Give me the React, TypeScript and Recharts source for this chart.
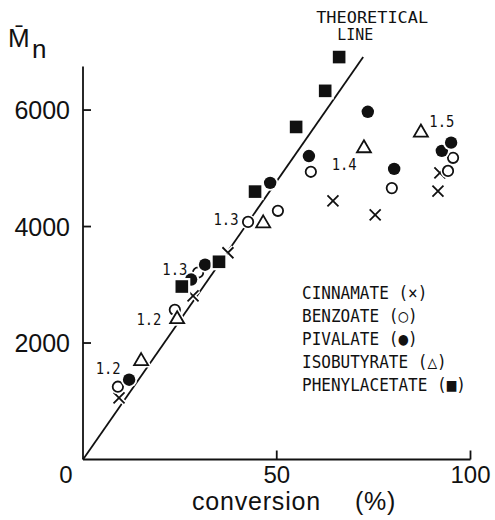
import React from "react";
import {
  ComposedChart,
  Scatter,
  Line,
  XAxis,
  YAxis,
  ReferenceLine,
  Legend,
} from "recharts";

// values: conversion (%) vs Mn
const cinnamateConv = [9.3, 28.4, 37.4, 64.5, 75.4, 91.6, 92.1];
const cinnamateMn = [1060, 2810, 3550, 4440, 4200, 4610, 4920];
const benzoateConv = [9.0, 23.7, 29.7, 42.6, 50.3, 58.8, 79.7, 94.2, 95.5];
const benzoateMn = [1250, 2570, 3210, 4080, 4270, 4940, 4660, 4955, 5180];
const pivalateConv = [11.9, 27.9, 31.5, 48.3, 58.3, 73.5, 80.3, 92.6, 95.0];
const pivalateMn = [1370, 3090, 3345, 4750, 5210, 5970, 4990, 5300, 5440];
const isobutyrateConv = [15.0, 24.3, 46.5, 72.5, 87.2];
const isobutyrateMn = [1715, 2435, 4080, 5370, 5640];
const phenylacetateConv = [25.5, 35.1, 44.4, 55.0, 62.5, 66.1];
const phenylacetateMn = [2970, 3395, 4600, 5710, 6330, 6910];

const theoryConv = [0, 72.3];
const theoryMn = [0, 6910];

// Mw/Mn annotations
const ratioLabels = ["1.2", "1.2", "1.3", "1.3", "1.4", "1.5"];
const ratioConv = [6.5, 17.0, 23.7, 36.9, 67.4, 92.6];
const ratioMn = [1570, 2410, 3270, 4120, 5060, 5800];

const seriesNames = [
  "CINNAMATE (×)",
  "BENZOATE (○)",
  "PIVALATE (●)",
  "ISOBUTYRATE (△)",
  "PHENYLACETATE (■)",
];

const xTicks = [0, 50, 100];
const yTicks = [2000, 4000, 6000];
const yAxisTop = 6750;

const zip = (xs: number[], ys: number[]) => xs.map((x, i) => ({ conv: x, mn: ys[i] }));

const SANS = '"Liberation Sans", Arial, sans-serif';
const MONO = '"DejaVu Sans Mono", monospace';
const INK = "#111";
const HALO = "#fff";

function CrossMark({ cx, cy }: any) {
  const s = 5.5;
  const d = `M${cx - s},${cy - s}L${cx + s},${cy + s}M${cx - s},${cy + s}L${cx + s},${cy - s}`;
  return (
    <g>
      <path d={d} stroke={HALO} strokeWidth={5} />
      <path d={d} stroke={INK} strokeWidth={1.8} />
    </g>
  );
}

function OpenCircle({ cx, cy }: any) {
  return (
    <g>
      <circle cx={cx} cy={cy} r={7.5} fill={HALO} />
      <circle cx={cx} cy={cy} r={5.2} fill="#fff" stroke={INK} strokeWidth={1.8} />
    </g>
  );
}

function FilledCircle({ cx, cy }: any) {
  return (
    <g>
      <circle cx={cx} cy={cy} r={8} fill={HALO} />
      <circle cx={cx} cy={cy} r={6.2} fill={INK} />
    </g>
  );
}

function TriangleMark({ cx, cy }: any) {
  const d = `M${cx},${cy - 6.5}L${cx + 7},${cy + 5.5}L${cx - 7},${cy + 5.5}Z`;
  return (
    <g>
      <path d={d} fill={HALO} stroke={HALO} strokeWidth={5} />
      <path d={d} fill="#fff" stroke={INK} strokeWidth={1.8} strokeLinejoin="miter" />
    </g>
  );
}

function SquareMark({ cx, cy }: any) {
  return (
    <g>
      <rect x={cx - 8.5} y={cy - 8.5} width={17} height={17} fill={HALO} />
      <rect x={cx - 6.3} y={cy - 6.3} width={12.6} height={12.6} fill={INK} />
    </g>
  );
}

function RatioText({ cx, cy, payload }: any) {
  return (
    <text
      x={cx}
      y={cy + 5.5}
      textAnchor="middle"
      fontFamily={MONO}
      fontSize={15}
      textLength={25}
      lengthAdjust="spacingAndGlyphs"
      fill={INK}
    >
      {payload.text}
    </text>
  );
}

function YTick({ x, y, payload }: any) {
  return (
    <g>
      <line x1={x} x2={x + 8} y1={y} y2={y} stroke={INK} strokeWidth={1.8} />
      <text x={x - 13} y={y + 9} textAnchor="end" fontFamily={SANS} fontSize={25} fill={INK}>
        {payload.value}
      </text>
    </g>
  );
}

function XTick({ x, y, payload }: any) {
  const v = payload.value;
  return (
    <g>
      {v !== 0 && <line x1={x} x2={x} y1={y} y2={y - 9} stroke={INK} strokeWidth={1.8} />}
      <text x={v === 0 ? x - 17 : x} y={y + 23} textAnchor="middle" fontFamily={SANS} fontSize={24} fill={INK}>
        {v}
      </text>
    </g>
  );
}

function theoryLabel(props: any) {
  const { x, y, index } = props;
  if (index !== theoryConv.length - 1) return <g />;
  return (
    <g fontFamily={MONO} fontSize={15} fill={INK}>
      <text x={x + 9} y={y - 34} textAnchor="middle" textLength={112} lengthAdjust="spacingAndGlyphs">
        THEORETICAL
      </text>
      <text x={x - 8} y={y - 17} textAnchor="middle" textLength={36} lengthAdjust="spacingAndGlyphs">
        LINE
      </text>
    </g>
  );
}

function renderLegend(props: any) {
  const items = (props.payload || [])
    .filter((e: any) => seriesNames.includes(e.value))
    .sort((a: any, b: any) => seriesNames.indexOf(a.value) - seriesNames.indexOf(b.value));
  return (
    <div style={{ fontFamily: MONO, fontSize: 18, lineHeight: "23px", color: INK }}>
      {items.map((e: any) => (
        <div
          key={e.value}
          style={{ transform: "scaleX(0.89)", transformOrigin: "left", whiteSpace: "pre" }}
        >
          {e.value}
        </div>
      ))}
    </div>
  );
}

export default function App() {
  const ratioData = ratioConv.map((c, i) => ({ conv: c, mn: ratioMn[i], text: ratioLabels[i] }));
  const seriesData = [
    zip(cinnamateConv, cinnamateMn),
    zip(benzoateConv, benzoateMn),
    zip(pivalateConv, pivalateMn),
    zip(isobutyrateConv, isobutyrateMn),
    zip(phenylacetateConv, phenylacetateMn),
  ];
  const shapes = [<CrossMark />, <OpenCircle />, <FilledCircle />, <TriangleMark />, <SquareMark />];

  return (
    <div style={{ position: "absolute", left: 0, top: 0, width: 495, height: 520, background: "#fff" }}>
      <ComposedChart width={495} height={520} margin={{ top: 22.7, right: 24.5, bottom: 0.5, left: 0 }}>
        <XAxis
          dataKey="conv"
          type="number"
          domain={[0, 100]}
          ticks={xTicks}
          interval={0}
          height={60}
          tickSize={0}
          tickMargin={0}
          tickLine={false}
          axisLine={{ stroke: INK, strokeWidth: 1.8 }}
          tick={<XTick />}
          label={{
            content: (p: any) => (
              <text
                x={p.viewBox.x + 109}
                y={p.viewBox.y + 50}
                fontFamily={SANS}
                fontSize={25}
                letterSpacing={0.8}
                fill={INK}
              >
                conversion
                <tspan dx={34}>(%)</tspan>
              </text>
            ),
          }}
        />
        <YAxis
          dataKey="mn"
          type="number"
          domain={[0, 7500]}
          allowDataOverflow
          ticks={yTicks}
          interval={0}
          width={83}
          tickSize={0}
          tickMargin={0}
          tickLine={false}
          axisLine={false}
          tick={<YTick />}
          label={{
            content: (p: any) => (
              <text fontFamily={SANS} fontSize={26} fill={INK}>
                <tspan x={p.viewBox.x + 8} y={p.viewBox.y + 24.3}>
                  {"M\u0304"}
                </tspan>
                <tspan x={p.viewBox.x + 32} y={p.viewBox.y + 35.3}>
                  n
                </tspan>
              </text>
            ),
          }}
        />
        <ReferenceLine
          segment={[
            { x: 0, y: 0 },
            { x: 0, y: yAxisTop },
          ]}
          stroke={INK}
          strokeWidth={1.8}
          ifOverflow="visible"
        />
        <Line
          data={zip(theoryConv, theoryMn)}
          dataKey="mn"
          type="linear"
          stroke={INK}
          strokeWidth={1.8}
          dot={false}
          activeDot={false}
          legendType="none"
          label={theoryLabel}
          isAnimationActive={false}
        />
        {seriesNames.map((name, i) => (
          <Scatter
            key={name}
            name={name}
            data={seriesData[i]}
            shape={shapes[i]}
            isAnimationActive={false}
          />
        ))}
        <Scatter data={ratioData} shape={<RatioText />} legendType="none" isAnimationActive={false} />
        <Legend
          layout="vertical"
          align="center"
          verticalAlign="middle"
          wrapperStyle={{ left: 302, top: 281, width: "auto" }}
          content={renderLegend}
        />
      </ComposedChart>
    </div>
  );
}
